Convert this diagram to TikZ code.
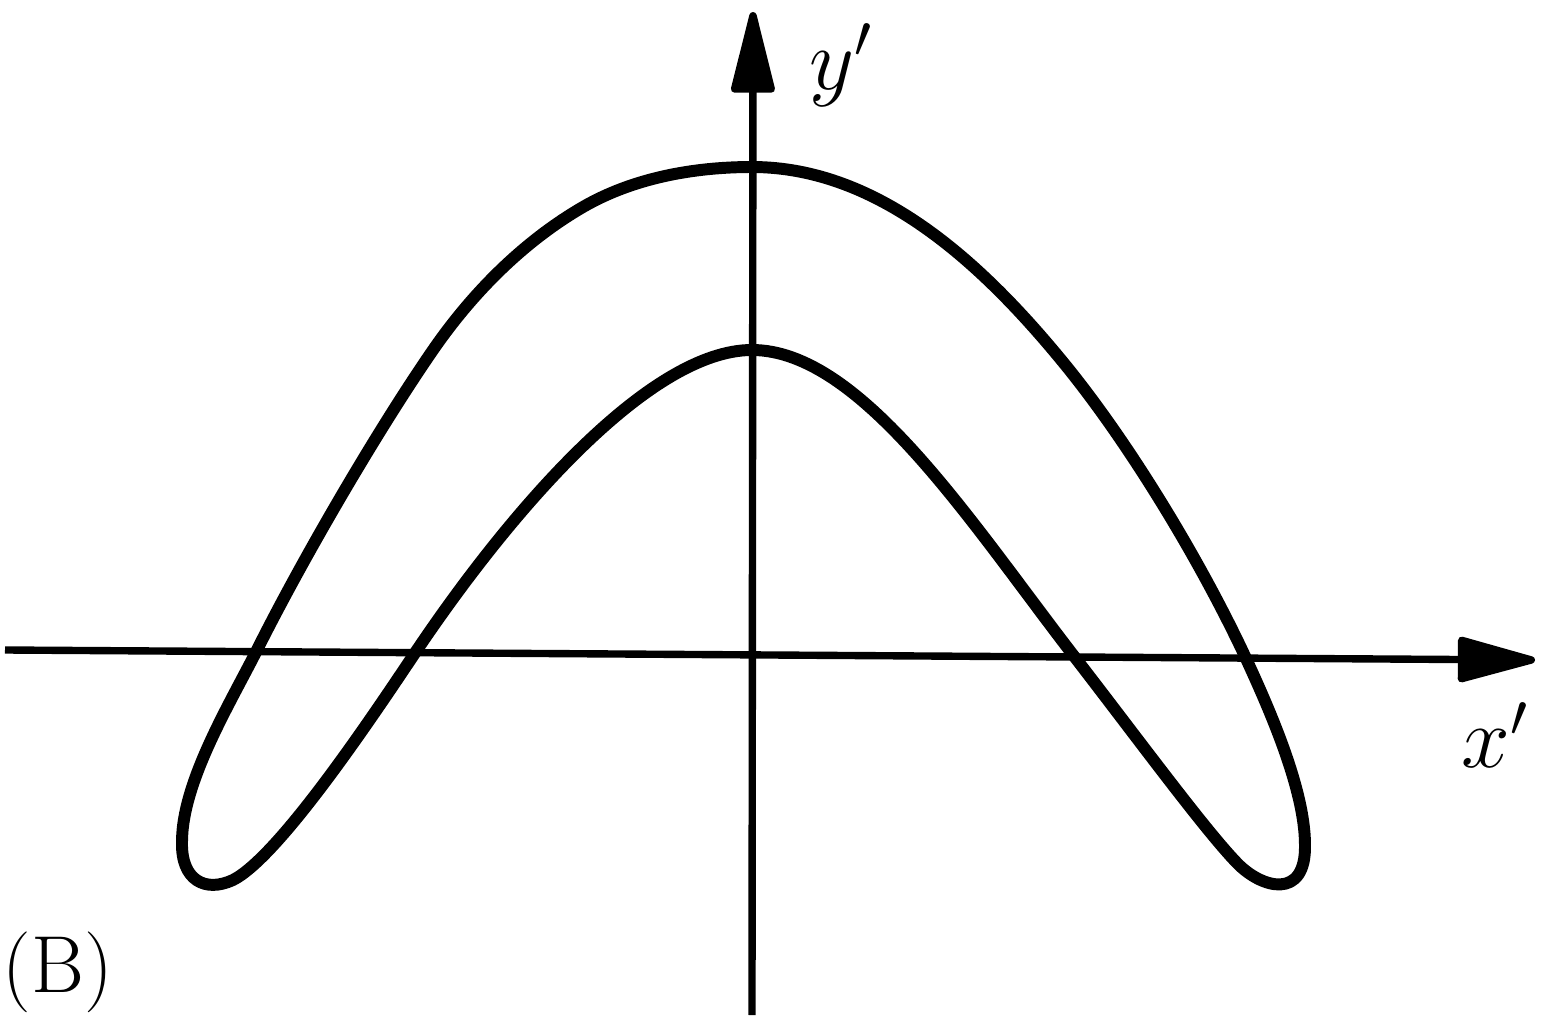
\documentclass[tikz,border=0pt]{standalone}
\usetikzlibrary{arrows.meta}
\begin{document}
\begin{tikzpicture}[x=0.01cm,y=-0.01cm,
  axisline/.style={line width=2.1pt,line cap=butt},
  curveline/.style={line width=3.4pt,line join=round},
  lab/.style={inner sep=0pt,font=\fontsize{23}{27}\selectfont}]
\useasboundingbox (0,0) rectangle (1544,1018);
\coordinate (ybot) at (752,1015);
\coordinate (ytop) at (753,12);
\coordinate (xleft) at (5,650);
\coordinate (xright) at (1535,660);
\draw[axisline,-{Triangle[length=0.93cm,width=0.44cm,round]}] (ybot) -- (ytop);
\draw[axisline,-{Triangle[length=0.88cm,width=0.46cm,round]}] (xleft) -- (xright);
\draw[curveline]
  (752,167) .. controls (694,167) and (633.2,177.9) .. (583,207)
  .. controls (523.3,241.6) and (472.2,293.2) .. (433,350)
  .. controls (376.2,432.3) and (301.7,560.6) .. (257,650)
  .. controls (230,703.6) and (182,782) .. (182,842)
  .. controls (181,880) and (205,893) .. (233,880)
  .. controls (278,857) and (367,725) .. (417,650)
  .. controls (512,509) and (650,350) .. (752,350)
  .. controls (862,350) and (973,526) .. (1077,660)
  .. controls (1138,739) and (1205,830) .. (1237,863)
  .. controls (1262,889) and (1306,900) .. (1305,845)
  .. controls (1305,790) and (1270,710) .. (1243,652)
  .. controls (1198,557) and (1130,445) .. (1067,367)
  .. controls (985,266) and (880,167) .. cycle;
\node[lab] (ylab) at (841,65) {$y'$};
\node[lab] (xlab) at (1495,735) {$x'$};
\node[lab] (blab) at (58,972) {(B)};
\end{tikzpicture}
\end{document}
